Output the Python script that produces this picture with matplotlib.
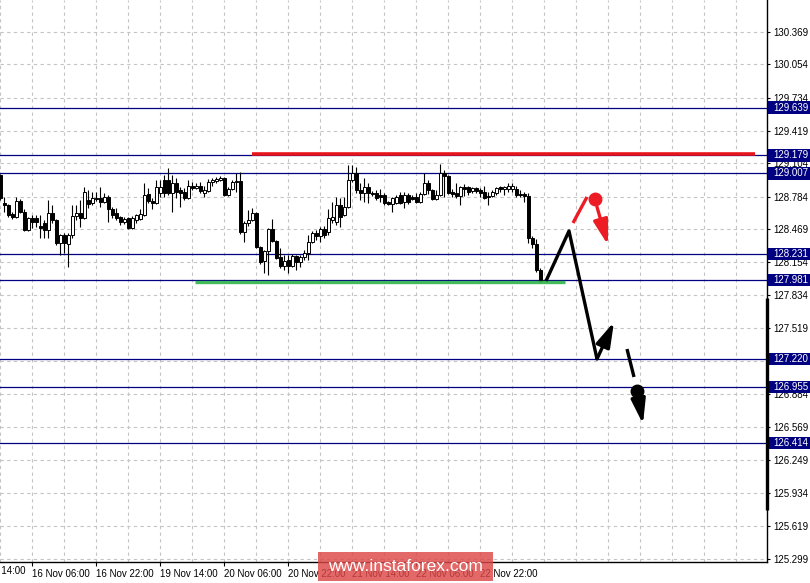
import matplotlib
matplotlib.use('Agg')
import matplotlib.pyplot as plt
from matplotlib.patches import Rectangle
from matplotlib.transforms import blended_transform_factory

plt.rcParams['font.family'] = ['Liberation Sans', 'DejaVu Sans']

# H1 candles (open, high, low, close)
opens = [128.99, 128.72, 128.70, 128.62, 128.59, 128.74, 128.64, 128.46, 128.58, 128.58,
         128.50, 128.53, 128.46, 128.63, 128.56, 128.34, 128.41, 128.33, 128.41, 128.60,
         128.63, 128.58, 128.75, 128.72, 128.77, 128.77, 128.73, 128.78, 128.66, 128.63,
         128.59, 128.54, 128.58, 128.48, 128.56, 128.57, 128.61, 128.81, 128.74, 128.72,
         128.82, 128.94, 128.94, 128.82, 128.91, 128.85, 128.83, 128.77, 128.89, 128.87,
         128.89, 128.82, 128.84, 128.92, 128.93, 128.94, 128.96, 128.80, 128.86, 128.92,
         128.93, 128.44, 128.53, 128.56, 128.63, 128.30, 128.16, 128.26, 128.47, 128.36,
         128.20, 128.12, 128.17, 128.12, 128.21, 128.15, 128.20, 128.24, 128.35, 128.43,
         128.40, 128.47, 128.44, 128.56, 128.54, 128.70, 128.61, 128.68, 128.94, 129.01,
         128.85, 128.82, 128.88, 128.82, 128.82, 128.80, 128.80, 128.73, 128.71, 128.72,
         128.80, 128.73, 128.80, 128.78, 128.78, 128.73, 128.81, 128.91, 128.85, 128.76,
         128.80, 129.01, 128.98, 128.83, 128.82, 128.79, 128.88, 128.88, 128.84, 128.87,
         128.85, 128.83, 128.79, 128.79, 128.82, 128.88, 128.86, 128.86, 128.86, 128.86,
         128.81, 128.81, 128.79, 128.39, 128.33, 128.08]
highs = [129.00, 128.78, 128.71, 128.64, 128.78, 128.76, 128.66, 128.59, 128.61, 128.61,
         128.61, 128.56, 128.75, 128.70, 128.57, 128.42, 128.43, 128.43, 128.70, 128.70,
         128.75, 128.88, 128.85, 128.83, 128.83, 128.88, 128.82, 128.80, 128.68, 128.67,
         128.60, 128.59, 128.59, 128.60, 128.62, 128.66, 128.91, 128.87, 128.77, 128.94,
         128.94, 128.99, 129.06, 128.99, 128.96, 128.88, 128.87, 128.94, 128.92, 128.91,
         128.92, 128.89, 128.95, 128.96, 128.97, 128.98, 128.97, 128.88, 128.94, 129.01,
         129.02, 128.55, 128.65, 128.67, 128.64, 128.31, 128.27, 128.48, 128.57, 128.37,
         128.29, 128.22, 128.22, 128.23, 128.22, 128.22, 128.27, 128.41, 128.45, 128.46,
         128.49, 128.50, 128.66, 128.73, 128.78, 128.77, 128.78, 129.09, 129.09, 129.07,
         128.91, 128.96, 128.91, 128.84, 128.85, 128.86, 128.82, 128.74, 128.78, 128.80,
         128.83, 128.83, 128.82, 128.80, 128.82, 128.83, 129.01, 128.94, 128.86, 128.85,
         129.10, 129.04, 128.99, 128.86, 128.91, 128.89, 128.90, 128.89, 128.88, 128.88,
         128.87, 128.89, 128.83, 128.85, 128.88, 128.89, 128.89, 128.91, 128.91, 128.89,
         128.85, 128.83, 128.82, 128.40, 128.38, 128.10]
lows = [128.75, 128.64, 128.59, 128.57, 128.58, 128.63, 128.45, 128.45, 128.48, 128.49,
        128.39, 128.39, 128.39, 128.53, 128.32, 128.22, 128.24, 128.11, 128.39, 128.56,
        128.49, 128.57, 128.67, 128.70, 128.74, 128.68, 128.72, 128.54, 128.58, 128.56,
        128.51, 128.52, 128.47, 128.47, 128.53, 128.56, 128.60, 128.72, 128.66, 128.71,
        128.78, 128.78, 128.80, 128.64, 128.77, 128.68, 128.75, 128.76, 128.85, 128.86,
        128.82, 128.78, 128.83, 128.89, 128.91, 128.93, 128.79, 128.79, 128.85, 128.83,
        128.42, 128.35, 128.50, 128.55, 128.29, 128.14, 128.05, 128.03, 128.35, 128.18,
        128.10, 128.08, 128.05, 128.11, 128.08, 128.11, 128.17, 128.17, 128.34, 128.37,
        128.35, 128.39, 128.41, 128.53, 128.51, 128.49, 128.60, 128.67, 128.92, 128.82,
        128.75, 128.73, 128.72, 128.79, 128.75, 128.73, 128.70, 128.70, 128.64, 128.71,
        128.71, 128.67, 128.71, 128.75, 128.72, 128.72, 128.80, 128.81, 128.75, 128.75,
        128.79, 128.78, 128.81, 128.78, 128.77, 128.70, 128.79, 128.80, 128.82, 128.82,
        128.78, 128.76, 128.70, 128.78, 128.80, 128.83, 128.80, 128.83, 128.83, 128.78,
        128.78, 128.73, 128.34, 128.29, 128.06, 127.96]
closes = [128.77, 128.70, 128.61, 128.59, 128.74, 128.64, 128.46, 128.58, 128.54, 128.54,
          128.48, 128.46, 128.63, 128.56, 128.34, 128.41, 128.34, 128.41, 128.60, 128.63,
          128.58, 128.83, 128.71, 128.77, 128.76, 128.73, 128.78, 128.66, 128.61, 128.58,
          128.54, 128.57, 128.48, 128.58, 128.61, 128.62, 128.80, 128.74, 128.72, 128.88,
          128.88, 128.82, 128.82, 128.91, 128.83, 128.82, 128.77, 128.89, 128.87, 128.89,
          128.84, 128.85, 128.92, 128.94, 128.95, 128.96, 128.80, 128.86, 128.92, 128.93,
          128.44, 128.53, 128.56, 128.63, 128.30, 128.15, 128.26, 128.47, 128.36, 128.19,
          128.12, 128.16, 128.12, 128.21, 128.15, 128.20, 128.24, 128.35, 128.43, 128.40,
          128.47, 128.41, 128.58, 128.59, 128.70, 128.59, 128.68, 128.94, 129.01, 128.85,
          128.82, 128.88, 128.82, 128.81, 128.77, 128.78, 128.72, 128.71, 128.77, 128.78,
          128.72, 128.80, 128.73, 128.76, 128.73, 128.81, 128.91, 128.85, 128.76, 128.80,
          129.01, 128.98, 128.82, 128.81, 128.79, 128.88, 128.86, 128.83, 128.87, 128.84,
          128.82, 128.77, 128.78, 128.83, 128.87, 128.86, 128.88, 128.89, 128.89, 128.80,
          128.80, 128.79, 128.39, 128.33, 128.08, 127.97]

# price axis ticks and marked levels
y_ticks = [130.369, 130.054, 129.734, 129.419, 129.104, 128.784, 128.469, 128.154, 127.834,
           127.519, 127.204, 126.884, 126.569, 126.249, 125.934, 125.619, 125.299]
levels = [129.639, 129.179, 129.007, 128.231, 127.981, 127.220, 126.955, 126.414]

# time labels (bar index, text)
x_label_idx = [-8, 8, 24, 40, 56, 72, 88, 104, 120]
x_labels = ['15 Nov 14:00', '16 Nov 06:00', '16 Nov 22:00', '19 Nov 14:00', '20 Nov 06:00',
            '20 Nov 22:00', '21 Nov 14:00', '22 Nov 06:00', '22 Nov 22:00']

# resistance / support drawn on chart
red_level = 129.19
red_span = [63, 188.75]
green_level = 127.965
green_span = [48.75, 141.25]

# forecast drawing (bar index, price)
path_x = [136.5, 142.25, 149.25]
path_y = [127.972, 128.453, 127.222]
up_arrow = [(149.25, 127.222), (153.5, 127.578)]
dash_x = [156.75, 158.5]
dash_y = [127.318, 127.049]
black_dot = (159.25, 126.915)
down_arrow = [(159.5, 126.86), (160.75, 126.597)]
red_x = [143.25, 146.75]
red_y = [128.53, 128.78]
red_dot = (148.75, 128.761)
red_arrow = [(149.25, 128.684), (152.0, 128.318)]

fig = plt.figure(figsize=(8.1, 5.83), dpi=100)
ax = fig.add_axes([0, 21 / 583, 767 / 810, 562 / 583])
ax.set_xlim(0, 191.75)
ax.set_ylim(125.270, 130.674)

# dashed grid
for gx in range(0, 192, 8):
    ax.axvline(gx, color='#c4c4c4', lw=0.8, ls=(0, (3, 3)), zorder=0)
for gy in y_ticks:
    ax.axhline(gy, color='#c4c4c4', lw=0.8, ls=(0, (3, 3)), zorder=0)

# navy levels
for lv in levels:
    ax.axhline(lv, color='#000080', lw=0.9, zorder=1)

# candles
for i in range(len(opens)):
    o, h, l, c = opens[i], highs[i], lows[i], closes[i]
    ax.vlines(i, l, h, color='black', lw=0.8, zorder=3)
    bottom = min(o, c)
    height = max(abs(c - o), 0.008)
    fc = 'white' if c > o else 'black'
    ax.bar(i, height, bottom=bottom, width=0.75, color=fc, edgecolor='black', lw=0.7, zorder=4)

# red and green lines
ax.plot(red_span, [red_level, red_level], color='#e8141c', lw=2.6, zorder=5, solid_capstyle='butt')
ax.plot(green_span, [green_level, green_level], color='#2eb34a', lw=2.4, alpha=0.9, zorder=5,
        solid_capstyle='butt')

# forecast
head = '-|>,head_length=0.75,head_width=0.22'
ax.plot(path_x, path_y, color='black', lw=2.4, zorder=6, solid_capstyle='butt')
ax.annotate('', xy=up_arrow[1], xytext=up_arrow[0],
            arrowprops=dict(arrowstyle=head, lw=2.4, color='black', mutation_scale=20,
                            shrinkA=0, shrinkB=0), zorder=6)
ax.plot(dash_x, dash_y, color='black', lw=2.4, zorder=6, solid_capstyle='butt')
ax.plot(*black_dot, 'o', color='black', ms=9, zorder=6)
ax.annotate('', xy=down_arrow[1], xytext=down_arrow[0],
            arrowprops=dict(arrowstyle=head, lw=2.4, color='black', mutation_scale=20,
                            shrinkA=0, shrinkB=0), zorder=6)
ax.plot(red_x, red_y, color='#ed1c24', lw=2.4, zorder=6, solid_capstyle='butt')
ax.plot(*red_dot, 'o', color='#ed1c24', ms=9, zorder=6)
ax.annotate('', xy=red_arrow[1], xytext=red_arrow[0],
            arrowprops=dict(arrowstyle=head, lw=2.4, color='#ed1c24', mutation_scale=20,
                            shrinkA=0, shrinkB=0), zorder=6)

# axes look
for s in ['top', 'left']:
    ax.spines[s].set_visible(False)
ax.spines['right'].set_linewidth(1.0)
ax.spines['bottom'].set_linewidth(1.0)

ax.yaxis.tick_right()
ax.set_yticks(y_ticks)
ax.set_yticklabels([f'{v:.3f}' for v in y_ticks], fontsize=7)
ax.tick_params(axis='y', direction='out', length=2.5, width=0.8, pad=2)

ax.set_xticks(x_label_idx[1:])
ax.set_xticklabels(x_labels[1:], fontsize=7, ha='left')
ax.tick_params(axis='x', direction='out', length=3, width=0.8, pad=2)
# first label is cut by the left edge
ax.text(x_label_idx[0], -0.0065, x_labels[0], transform=blended_transform_factory(ax.transData, ax.transAxes),
        fontsize=7, ha='left', va='top', clip_on=False)

# level labels on the price scale
blend = blended_transform_factory(ax.transAxes, ax.transData)
for lv in levels:
    ax.add_patch(Rectangle((1.0013, lv - 0.06), 0.06, 0.12, transform=blend,
                           facecolor='#000080', edgecolor='none', clip_on=False, zorder=7))
    ax.text(1.0078, lv, f'{lv:.3f}', transform=blend, color='white', fontsize=7,
            ha='left', va='center', clip_on=False, zorder=8)

# thick bar on the scale
ax.plot([1.0, 1.0], [127.81, 125.77], transform=blend, color='black', lw=2.4,
        clip_on=False, solid_capstyle='butt', zorder=7)

# watermark
fig.patches.append(Rectangle((318 / 810, 2 / 583), 175 / 810, 29 / 583, transform=fig.transFigure,
                             facecolor='#dd4747', alpha=0.82, edgecolor='none', zorder=5))
fig.text(405.5 / 810, 16.5 / 583, 'www.instaforex.com', color='white', fontsize=12.5,
         ha='center', va='center', zorder=6)

fig.savefig('out.png', dpi=100)
